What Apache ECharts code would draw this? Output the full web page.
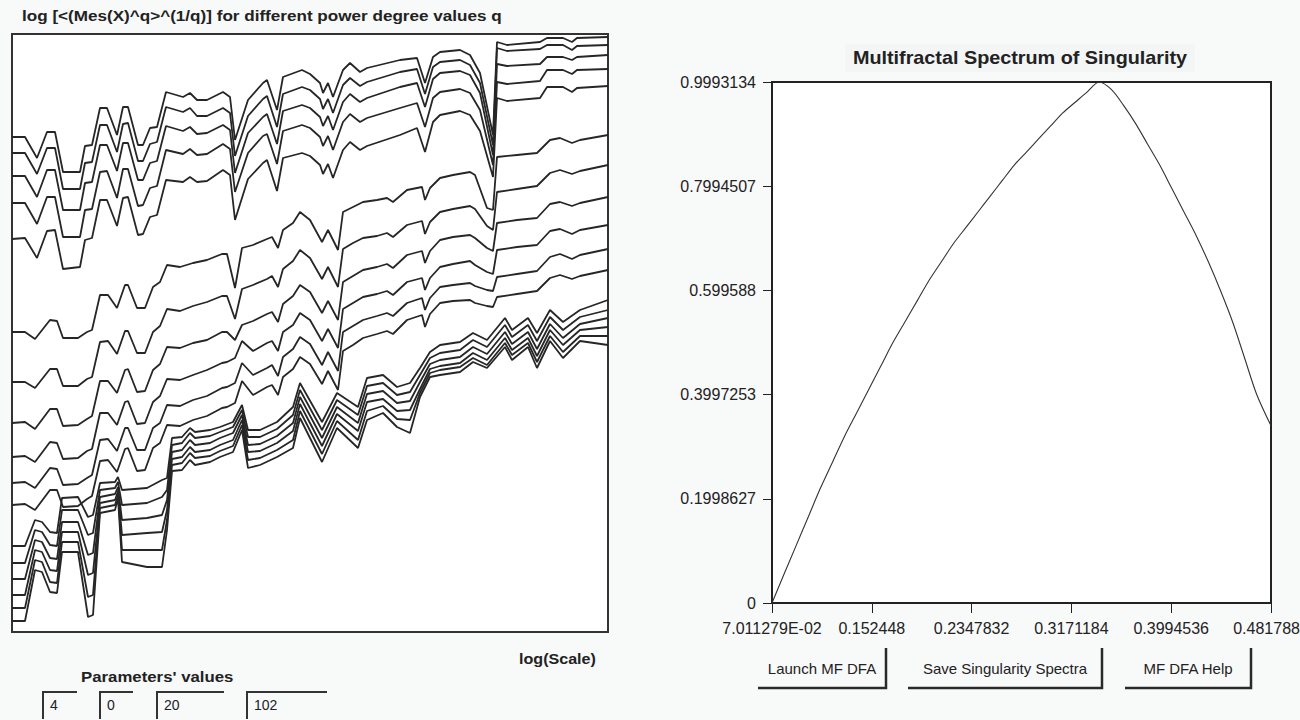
<!DOCTYPE html>
<html>
<head>
<meta charset="utf-8">
<title>MF DFA</title>
<script src="https://cdn.jsdelivr.net/npm/echarts@6/dist/echarts.min.js"></script>
<style>
  html, body { margin: 0; padding: 0; background: #f8f9f9; }
  #chart { width: 1300px; height: 720px; }
</style>
</head>
<body>
<div id="chart"></div>
<script>
// log(Scale) positions, one grid per family of q curves
const scaleA = [0,0.13,0.25,0.35,0.43,0.51,0.68,0.73,0.80,0.88,0.95,1.05,1.11,1.16,1.26,1.31,1.38,1.45,1.54,1.71,1.78,1.85,1.95,2.11,2.18,2.23,2.36,2.51,2.55,2.65,2.71,2.90,2.98,3.08,3.11,3.16,3.21,3.31,3.38,3.48,3.55,3.88,4.05,4.13,4.21,4.28,4.48,4.58,4.68,4.81,4.85,4.95,5.28,5.35,5.51,5.60,5.65,5.96]
const scaleB = [0,0.13,0.23,0.38,0.45,0.51,0.66,0.75,0.80,0.88,0.96,1.05,1.13,1.16,1.25,1.33,1.41,1.48,1.55,1.68,1.81,1.95,2.10,2.15,2.23,2.30,2.41,2.55,2.60,2.66,2.71,2.81,2.88,2.98,3.10,3.16,3.26,3.31,3.41,3.51,3.65,3.75,3.81,3.95,4.10,4.13,4.18,4.28,4.41,4.58,4.63,4.75,4.81,4.85,5.05,5.25,5.38,5.48,5.60,5.68,5.96]
const scaleC = [0,0.13,0.23,0.30,0.38,0.45,0.50,0.66,0.76,0.81,0.88,1.03,1.06,1.10,1.35,1.50,1.55,1.60,1.70,1.78,1.83,1.98,2.08,2.21,2.30,2.36,2.48,2.65,2.81,2.88,3.10,3.25,3.46,3.55,3.71,3.85,3.98,4.08,4.18,4.28,4.48,4.61,4.75,4.93,5.00,5.16,5.25,5.38,5.51,5.68,5.96]

// log [<(Mes(X)^q>^(1/q)] per q
const lineA1 = [4.95,4.95,4.74,5.00,5.00,4.60,4.60,4.86,4.87,5.24,5.24,4.97,5.25,5.25,4.87,4.87,5.04,5.05,5.40,5.35,5.39,5.32,5.32,5.40,5.35,4.92,5.32,5.49,5.52,5.22,5.55,5.62,5.58,5.49,5.39,5.49,5.35,5.62,5.69,5.60,5.64,5.72,5.74,5.49,5.75,5.80,5.82,5.77,5.59,4.97,5.90,5.87,5.90,5.94,5.94,5.90,5.94,5.95]
const lineA2 = [4.79,4.79,4.58,4.84,4.84,4.43,4.43,4.69,4.70,5.07,5.07,4.80,5.08,5.09,4.71,4.71,4.88,4.90,5.25,5.20,5.24,5.16,5.16,5.24,5.19,4.76,5.16,5.33,5.36,5.05,5.38,5.45,5.42,5.33,5.23,5.33,5.19,5.47,5.54,5.46,5.50,5.60,5.63,5.38,5.65,5.70,5.72,5.67,5.49,4.87,5.84,5.81,5.83,5.87,5.87,5.82,5.86,5.87]
const lineA3 = [4.56,4.56,4.35,4.62,4.62,4.22,4.22,4.49,4.50,4.87,4.87,4.61,4.89,4.89,4.52,4.52,4.69,4.71,5.06,5.01,5.05,4.98,4.99,5.07,5.02,4.59,4.99,5.15,5.18,4.88,5.21,5.27,5.24,5.15,5.06,5.16,5.02,5.30,5.38,5.30,5.34,5.45,5.49,5.25,5.53,5.59,5.61,5.57,5.39,4.77,5.68,5.66,5.68,5.75,5.75,5.72,5.75,5.77]
const lineA4 = [4.29,4.29,4.08,4.35,4.35,3.95,3.95,4.22,4.23,4.60,4.61,4.34,4.63,4.63,4.26,4.27,4.44,4.46,4.82,4.78,4.83,4.77,4.78,4.88,4.83,4.40,4.79,4.96,4.98,4.68,5.01,5.07,5.04,4.95,4.86,4.96,4.82,5.10,5.18,5.10,5.14,5.24,5.29,5.05,5.34,5.40,5.43,5.39,5.22,4.67,5.50,5.48,5.51,5.62,5.62,5.58,5.62,5.63]
const lineA5 = [3.93,3.94,3.74,4.01,4.02,3.63,3.65,3.92,3.94,4.32,4.32,4.06,4.34,4.35,3.97,3.98,4.15,4.17,4.52,4.50,4.55,4.50,4.51,4.62,4.57,4.12,4.53,4.69,4.72,4.41,4.74,4.79,4.76,4.67,4.58,4.68,4.54,4.82,4.90,4.82,4.86,4.97,5.04,4.80,5.10,5.17,5.21,5.17,5.01,4.55,5.34,5.31,5.34,5.45,5.45,5.40,5.44,5.46]

const lineB1 = [3.00,3.00,2.93,3.12,3.11,2.94,2.94,3.00,3.02,3.37,3.37,3.24,3.47,3.47,3.24,3.24,3.45,3.50,3.67,3.65,3.69,3.72,3.78,3.78,3.44,3.84,3.87,3.93,3.95,3.84,4.02,4.09,4.20,4.12,3.90,4.02,3.82,4.20,4.25,4.30,4.32,4.34,4.30,4.42,4.45,4.32,4.44,4.54,4.57,4.60,4.57,4.24,4.22,4.75,4.77,4.79,4.92,4.94,4.89,4.92,4.97]
const lineB2 = [2.50,2.50,2.44,2.63,2.63,2.46,2.46,2.53,2.55,2.90,2.91,2.78,3.01,3.01,2.79,2.79,3.00,3.06,3.23,3.21,3.26,3.30,3.36,3.36,3.13,3.43,3.47,3.53,3.56,3.45,3.63,3.71,3.82,3.74,3.53,3.65,3.45,3.83,3.89,3.94,3.96,3.99,3.95,4.07,4.11,3.98,4.10,4.20,4.23,4.26,4.23,4.06,4.02,4.40,4.43,4.46,4.59,4.62,4.58,4.61,4.67]
const lineB3 = [2.09,2.10,2.03,2.23,2.23,2.06,2.07,2.13,2.16,2.51,2.51,2.39,2.62,2.63,2.40,2.41,2.62,2.68,2.85,2.84,2.89,2.92,3.00,3.00,2.92,3.07,3.11,3.18,3.20,3.10,3.28,3.36,3.47,3.40,3.19,3.31,3.12,3.50,3.56,3.62,3.65,3.68,3.64,3.77,3.81,3.69,3.81,3.92,3.95,3.97,3.94,3.84,3.81,4.09,4.12,4.14,4.28,4.30,4.26,4.29,4.35]
const lineB4 = [1.75,1.76,1.70,1.90,1.89,1.73,1.74,1.81,1.83,2.19,2.19,2.07,2.30,2.31,2.08,2.09,2.30,2.36,2.53,2.52,2.57,2.62,2.69,2.70,2.74,2.91,2.81,2.89,2.91,2.81,3.00,3.07,3.19,3.12,2.91,3.03,2.84,3.23,3.29,3.35,3.38,3.41,3.37,3.50,3.54,3.42,3.54,3.65,3.68,3.71,3.67,3.60,3.58,3.82,3.85,3.87,4.01,4.03,3.98,4.02,4.07]
const lineB5 = [1.49,1.50,1.44,1.64,1.63,1.47,1.48,1.54,1.57,1.92,1.93,1.81,2.04,2.04,1.82,1.82,2.04,2.09,2.27,2.26,2.32,2.36,2.44,2.45,2.49,2.69,2.57,2.64,2.67,2.56,2.75,2.83,2.95,2.88,2.67,2.80,2.61,3.00,3.06,3.12,3.16,3.19,3.16,3.29,3.34,3.22,3.34,3.45,3.47,3.49,3.46,3.42,3.41,3.55,3.58,3.61,3.75,3.78,3.73,3.77,3.83]
const lineB6 = [1.27,1.28,1.22,1.42,1.42,1.25,1.26,1.33,1.36,1.71,1.72,1.60,1.83,1.84,1.61,1.62,1.84,1.89,2.07,2.06,2.12,2.16,2.24,2.25,2.29,2.51,2.37,2.45,2.47,2.37,2.55,2.63,2.75,2.68,2.48,2.61,2.42,2.81,2.87,2.94,2.98,3.01,2.98,3.12,3.17,3.05,3.18,3.29,3.31,3.32,3.29,3.26,3.25,3.35,3.38,3.41,3.54,3.57,3.53,3.56,3.62]

const lineC1 = [0.86,0.86,1.12,1.10,1.00,0.99,1.34,1.35,1.15,1.17,1.49,1.50,1.55,1.42,1.44,1.52,1.54,1.94,1.95,2.04,2.00,2.02,2.05,2.10,2.27,2.02,2.02,2.10,2.25,2.49,2.10,2.39,2.25,2.54,2.57,2.45,2.49,2.64,2.80,2.87,2.90,2.99,2.92,3.14,3.02,3.14,2.99,3.22,3.10,3.22,3.32]
const lineC2 = [0.69,0.69,1.02,1.00,0.87,0.86,1.22,1.22,0.97,0.99,1.42,1.44,1.50,1.27,1.29,1.35,1.42,1.87,1.89,1.99,1.94,1.96,2.00,2.05,2.22,1.95,1.95,2.03,2.17,2.42,2.02,2.32,2.17,2.46,2.49,2.37,2.40,2.57,2.74,2.79,2.82,2.92,2.85,3.07,2.95,3.07,2.91,3.15,3.02,3.15,3.22]
const lineC3 = [0.53,0.53,0.92,0.90,0.74,0.73,1.10,1.10,0.77,0.79,1.35,1.38,1.45,1.12,1.14,1.17,1.32,1.80,1.82,1.92,1.87,1.89,1.94,1.99,2.17,1.87,1.88,1.96,2.09,2.35,1.94,2.25,2.09,2.38,2.41,2.29,2.31,2.50,2.68,2.72,2.75,2.85,2.78,3.00,2.88,3.00,2.83,3.08,2.94,3.08,3.14]
const lineC4 = [0.37,0.37,0.82,0.80,0.62,0.61,1.00,1.00,0.57,0.59,1.29,1.32,1.41,0.97,0.99,1.00,1.22,1.73,1.75,1.85,1.80,1.82,1.87,1.92,2.12,1.80,1.81,1.89,2.01,2.28,1.86,2.18,2.01,2.30,2.33,2.21,2.22,2.43,2.63,2.66,2.69,2.79,2.72,2.94,2.82,2.94,2.76,3.02,2.87,3.02,3.05]
const lineC5 = [0.24,0.24,0.72,0.70,0.50,0.49,0.90,0.90,0.35,0.37,1.24,1.27,1.37,0.82,0.82,0.82,1.12,1.67,1.69,1.79,1.74,1.76,1.81,1.86,2.07,1.72,1.74,1.82,1.92,2.21,1.78,2.11,1.92,2.21,2.26,2.13,2.12,2.39,2.59,2.62,2.65,2.74,2.67,2.89,2.77,2.89,2.70,2.96,2.80,2.96,2.96]
const lineC6 = [0.11,0.11,0.62,0.60,0.40,0.39,0.80,0.80,0.15,0.17,1.19,1.22,1.34,0.70,0.65,0.65,1.02,1.61,1.62,1.72,1.67,1.70,1.75,1.80,2.02,1.64,1.67,1.75,1.84,2.14,1.70,2.04,1.84,2.12,2.19,2.05,1.99,2.35,2.55,2.57,2.60,2.70,2.64,2.85,2.72,2.85,2.64,2.91,2.74,2.91,2.87]

// singularity spectrum f(alpha)
const alpha = [0.0701,0.08,0.09,0.10,0.11,0.12,0.13,0.14,0.15,0.16,0.17,0.18,0.19,0.20,0.21,0.22,0.23,0.24,0.25,0.26,0.27,0.28,0.29,0.30,0.31,0.32,0.33,0.34,0.35,0.36,0.37,0.38,0.39,0.40,0.41,0.42,0.43,0.44,0.45,0.46,0.47,0.4818]
const spectrum = [0,0.055,0.11,0.165,0.22,0.27,0.32,0.365,0.41,0.455,0.50,0.54,0.58,0.62,0.655,0.69,0.72,0.75,0.78,0.81,0.84,0.865,0.89,0.915,0.94,0.96,0.98,0.9993,0.985,0.955,0.92,0.88,0.84,0.795,0.75,0.705,0.655,0.60,0.54,0.47,0.40,0.34]

const alphaTicks = [0.07011279, 0.152448, 0.2347832, 0.3171184, 0.3994536, 0.4817888]
const alphaLabels = ['7.011279E-02', '0.152448', '0.2347832', '0.3171184', '0.3994536', '0.4817888']
const fTicks = [0, 0.1998627, 0.3997253, 0.599588, 0.7994507, 0.9993134]
const fLabels = ['0', '0.1998627', '0.3997253', '0.599588', '0.7994507', '0.9993134']

const paramValues = ['4', '0', '20', '102']
const buttonNames = ['Launch MF DFA', 'Save Singularity Spectra', 'MF DFA Help']

const FONT = '"Liberation Sans", Arial, sans-serif'
const zip = (xs, ys) => xs.map((x, i) => [x, ys[i]])
const nearest = (ticks, labels, v) => {
  let best = 0
  ticks.forEach((t, i) => { if (Math.abs(t - v) < Math.abs(ticks[best] - v)) best = i })
  return labels[best]
}

const qCurves = [
  [scaleA, [lineA1, lineA2, lineA3, lineA4, lineA5]],
  [scaleB, [lineB1, lineB2, lineB3, lineB4, lineB5, lineB6]],
  [scaleC, [lineC1, lineC2, lineC3, lineC4, lineC5, lineC6]]
]

const series = []
qCurves.forEach(([xs, lines]) => {
  lines.forEach(ys => {
    series.push({
      type: 'line',
      xAxisIndex: 0,
      yAxisIndex: 0,
      data: zip(xs, ys),
      symbol: 'none',
      silent: true,
      lineStyle: { color: '#262626', width: 1.8 }
    })
  })
})
series.push({
  type: 'line',
  xAxisIndex: 1,
  yAxisIndex: 1,
  data: zip(alpha, spectrum),
  symbol: 'none',
  smooth: 0.3,
  silent: true,
  lineStyle: { color: '#333', width: 1.1 }
})

// extra widgets of the window: titles, parameter fields, buttons
const graphic = [
  { type: 'text', x: 22, y: 8, scaleX: 1.14, style: { text: 'log [<(Mes(X)^q>^(1/q)] for different power degree values q', font: 'bold 15px ' + FONT, fill: '#222' } },
  { type: 'rect', shape: { x: 845, y: 44, width: 350, height: 28 }, style: { fill: '#f4f5f5' } },
  { type: 'text', x: 1020, y: 58, scaleX: 1.1, style: { text: 'Multifractal Spectrum of Singularity', font: 'bold 18px ' + FONT, fill: '#222', align: 'center', verticalAlign: 'middle' } },
  { type: 'text', x: 519, y: 652, scaleX: 1.15, style: { text: 'log(Scale)', font: 'bold 14px ' + FONT, fill: '#222' } },
  { type: 'text', x: 81, y: 670, scaleX: 1.2, style: { text: "Parameters' values", font: 'bold 14px ' + FONT, fill: '#222' } }
]

const fieldBoxes = [[43, 34], [100, 33], [157, 67], [247, 80]]
paramValues.forEach((v, i) => {
  const [x, w] = fieldBoxes[i]
  graphic.push({ type: 'polyline', shape: { points: [[x, 719], [x, 692], [x + w, 692]] }, style: { stroke: '#333', lineWidth: 2, fill: null } })
  graphic.push({ type: 'text', x: x + 7, y: 698, style: { text: v, font: '14px ' + FONT, fill: '#222' } })
})

const buttonBoxes = [[758, 128], [908, 194], [1125, 126]]
buttonNames.forEach((name, i) => {
  const [x, w] = buttonBoxes[i]
  const y = 648, h = 40
  graphic.push({ type: 'polyline', shape: { points: [[x + w, y], [x + w, y + h], [x, y + h]] }, style: { stroke: '#2a2a2a', lineWidth: 2.5, fill: null } })
  graphic.push({ type: 'text', x: x + w / 2, y: y + h / 2, style: { text: name, font: '15px ' + FONT, fill: '#222', align: 'center', verticalAlign: 'middle' } })
})

const chart = echarts.init(document.getElementById('chart'), null, { renderer: 'svg' })
chart.setOption({
  animation: false,
  backgroundColor: '#f8f9f9',
  grid: [
    { left: 12, top: 34, width: 596, height: 598, show: true, backgroundColor: '#fff', borderColor: '#333', borderWidth: 2, outerBoundsMode: 'none', containLabel: false },
    { left: 772, top: 82, width: 499, height: 521, show: true, backgroundColor: '#fff', borderColor: '#222', borderWidth: 2, outerBoundsMode: 'none', containLabel: false }
  ],
  xAxis: [
    { type: 'value', gridIndex: 0, min: 0, max: 5.96, show: false },
    {
      type: 'value', gridIndex: 1, min: 0.07011279, max: 0.4817888,
      axisLine: { show: true, lineStyle: { color: '#222', width: 1 } },
      axisTick: { show: true, length: 10, customValues: alphaTicks, lineStyle: { color: '#222' } },
      axisLabel: { customValues: alphaTicks, margin: 17, color: '#222', fontSize: 16, fontFamily: FONT, formatter: v => nearest(alphaTicks, alphaLabels, v) },
      splitLine: { show: false }
    }
  ],
  yAxis: [
    { type: 'value', gridIndex: 0, min: 0, max: 5.98, show: false },
    {
      type: 'value', gridIndex: 1, min: 0, max: 0.9993134,
      axisLine: { show: true, lineStyle: { color: '#222', width: 1 } },
      axisTick: { show: true, length: 9, customValues: fTicks, lineStyle: { color: '#222' } },
      axisLabel: { customValues: fTicks, margin: 16, color: '#222', fontSize: 16, fontFamily: FONT, formatter: v => nearest(fTicks, fLabels, v) },
      splitLine: { show: false }
    }
  ],
  graphic: graphic,
  series: series
})
</script>
</body>
</html>
